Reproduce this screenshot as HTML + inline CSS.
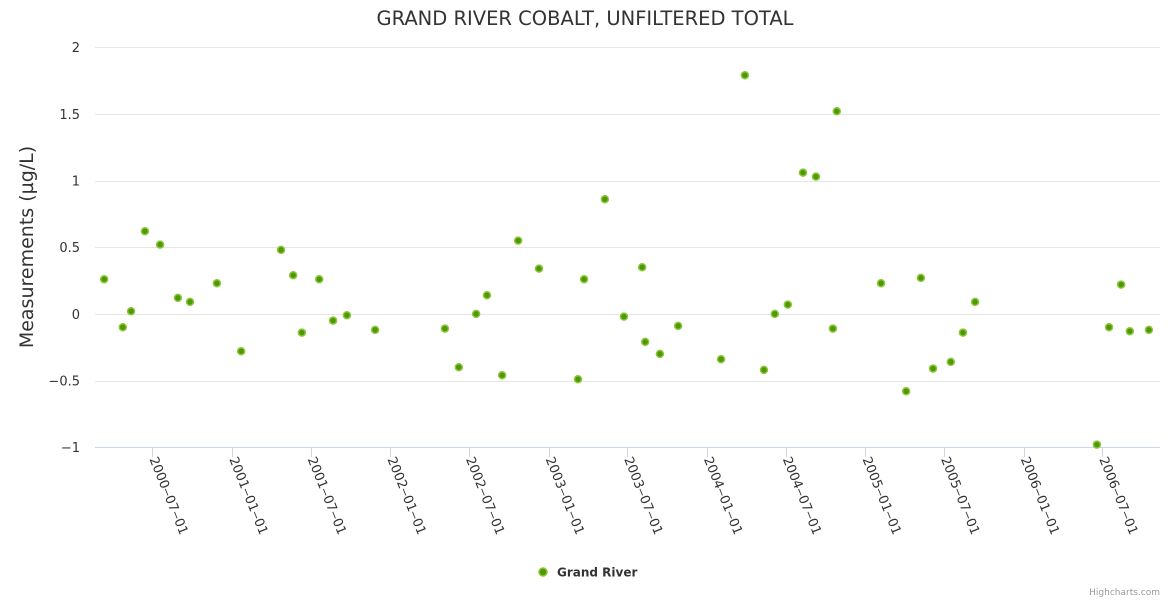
<!DOCTYPE html>
<html><head><meta charset="utf-8"><style>
body{margin:0;background:#fff;font-family:"DejaVu Sans","Liberation Sans",sans-serif;}
svg{display:block}
</style></head><body>
<svg id="chart" width="1170" height="600" xmlns="http://www.w3.org/2000/svg" font-family="DejaVu Sans, Liberation Sans, sans-serif">
<rect width="1170" height="600" fill="#fff"/>
<text x="585" y="25" text-anchor="middle" font-size="19.5" fill="#333">GRAND RIVER COBALT, UNFILTERED TOTAL</text>
<g id="grid"></g>
<g id="yticks"></g>
<text transform="translate(33,247) rotate(-90)" text-anchor="middle" font-size="19" fill="#333">Measurements (µg/L)</text>
<line x1="95" y1="447.5" x2="1160" y2="447.5" stroke="#ccd6eb"/>
<g id="xticks"></g>
<g id="points"></g>
<g>
<circle cx="543" cy="572" r="4" fill="#4d9900" stroke="#8dc63f" stroke-width="1.5"/>
<text x="557" y="576.5" font-size="12" font-weight="bold" fill="#333">Grand River</text>
</g>
<text x="1160" y="595" text-anchor="end" font-size="9" fill="#999">Highcharts.com</text>
</svg>
<script>
const dates=["2000-03-12","2000-04-24","2000-05-13","2000-06-14","2000-07-19","2000-08-29","2000-09-26","2000-11-27","2001-01-22","2001-04-24","2001-05-22","2001-06-11","2001-07-21","2001-08-22","2001-09-23","2001-11-27","2002-05-07","2002-06-08","2002-07-18","2002-08-12","2002-09-16","2002-10-23","2002-12-10","2003-03-10","2003-03-24","2003-05-11","2003-06-24","2003-08-05","2003-08-12","2003-09-15","2003-10-27","2004-02-03","2004-03-29","2004-05-12","2004-06-06","2004-07-06","2004-08-10","2004-09-09","2004-10-18","2004-10-27","2005-02-06","2005-04-05","2005-05-09","2005-06-06","2005-07-17","2005-08-14","2005-09-11","2006-06-19","2006-07-17","2006-08-14","2006-09-03","2006-10-17"];
const values=[0.26,-0.1,0.02,0.62,0.52,0.12,0.09,0.23,-0.28,0.48,0.29,-0.14,0.26,-0.05,-0.01,-0.12,-0.11,-0.4,0,0.14,-0.46,0.55,0.34,-0.49,0.26,0.86,-0.02,0.35,-0.21,-0.3,-0.09,-0.34,1.79,-0.42,0,0.07,1.06,1.03,-0.11,1.52,0.23,-0.58,0.27,-0.41,-0.36,-0.14,0.09,-0.98,-0.1,0.22,-0.13,-0.12];
const yTicks=[-1,-0.5,0,0.5,1,1.5,2];
const xTicks=["2000-07-01","2001-01-01","2001-07-01","2002-01-01","2002-07-01","2003-01-01","2003-07-01","2004-01-01","2004-07-01","2005-01-01","2005-07-01","2006-01-01","2006-07-01"];
const NS="http://www.w3.org/2000/svg";
const base=Date.UTC(2000,6,1);
function xs(d){const p=d.split("-");return 152.3+(Date.UTC(+p[0],+p[1]-1,+p[2])-base)/86400000*0.4335;}
function ys(v){return 313.9-v*133.33;}
const grid=document.getElementById("grid"),yt=document.getElementById("yticks"),xt=document.getElementById("xticks"),pts=document.getElementById("points");
yTicks.forEach(v=>{
 if(v>-1){const l=document.createElementNS(NS,"line");
 l.setAttribute("x1",95);l.setAttribute("x2",1160);l.setAttribute("y1",Math.round(ys(v))+0.5);l.setAttribute("y2",Math.round(ys(v))+0.5);l.setAttribute("stroke","#e6e6e6");
 
 
 grid.appendChild(l);}
 const t=document.createElementNS(NS,"text");
 t.setAttribute("x",80);t.setAttribute("y",ys(v)+5);t.setAttribute("text-anchor","end");t.setAttribute("font-size","13");t.setAttribute("fill","#333");
 t.textContent=v===-1?"−1":v===-0.5?"−0.5":String(v);
 
 
 yt.appendChild(t);
});
xTicks.forEach(d=>{
 const x=xs(d);
 const l=document.createElementNS(NS,"line");
 l.setAttribute("x1",Math.round(x)+0.5);l.setAttribute("x2",Math.round(x)+0.5);l.setAttribute("y1",447);l.setAttribute("y2",457);l.setAttribute("stroke","#ccd6eb");
 
 
 xt.appendChild(l);
 const t=document.createElementNS(NS,"text");
 t.setAttribute("transform","translate("+(x-3)+",459) rotate(68)");t.setAttribute("font-size","13");t.setAttribute("fill","#333");
 t.textContent=d.replace(/-/g,"‒");
 
 
 xt.appendChild(t);
});
dates.forEach((d,i)=>{
 const c=document.createElementNS(NS,"circle");
 c.setAttribute("cx",xs(d));c.setAttribute("cy",ys(values[i]));c.setAttribute("r",3.5);c.setAttribute("fill","#4d9900");c.setAttribute("stroke","#8dc63f");c.setAttribute("stroke-width","1.5");
 
 
 pts.appendChild(c);
});
</script>
</body></html>
